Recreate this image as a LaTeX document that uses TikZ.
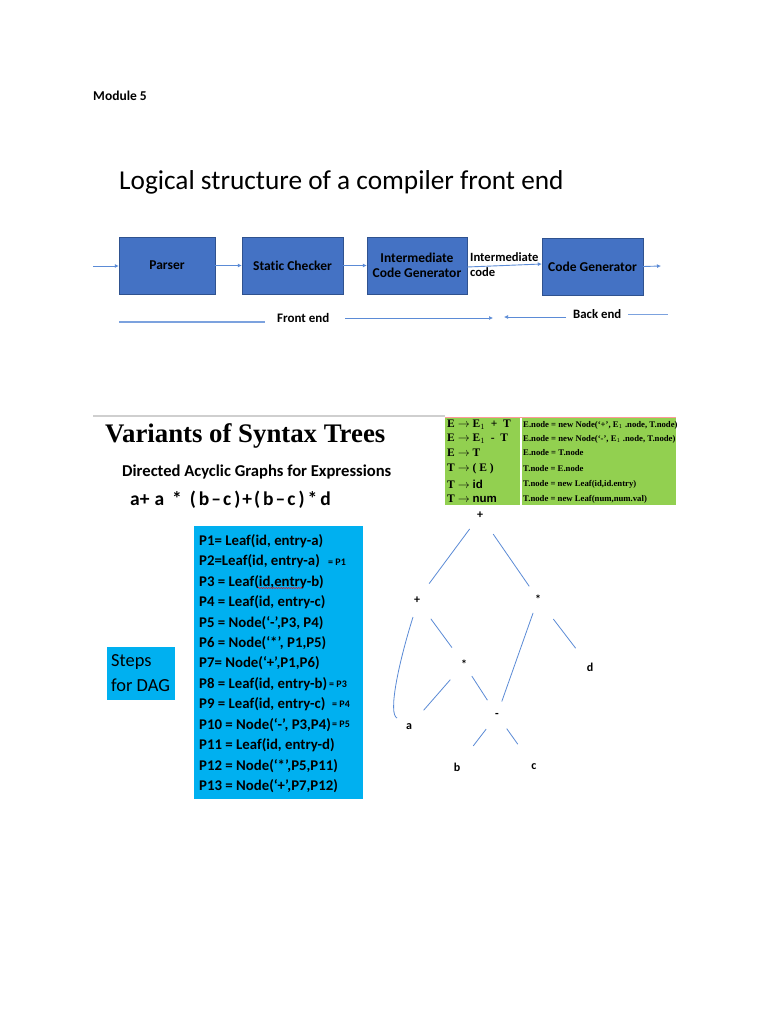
\documentclass[tikz,border=0pt]{standalone}
\usepackage{fontspec}
\setmainfont{Carlito}[Ligatures=NoCommon]
\newfontfamily\timesfont{Liberation Serif}
\newfontfamily\arialfont{Liberation Sans}
\usetikzlibrary{arrows.meta,decorations.pathmorphing}

\definecolor{boxblue}{HTML}{4472C4}
\definecolor{boxedge}{HTML}{2F528F}
\definecolor{lineblue}{HTML}{5B8BD6}
\definecolor{stepblue}{HTML}{00B0F0}
\definecolor{tablegreen}{HTML}{92D050}
\definecolor{rulegray}{HTML}{CFCFCF}

\tikzset{
  stage/.style={draw=boxedge, fill=boxblue, minimum height=57pt, inner sep=0pt,
    align=center, font=\bfseries\fontsize{13.5}{15}\selectfont},
  flow/.style={lineblue, line width=0.9pt, -{Latex[length=4pt,width=4pt]}},
  lbl/.style={inner sep=0pt, anchor=west},
  treelbl/.style={inner sep=0pt, font=\bfseries\fontsize{12}{13}\selectfont},
  treeline/.style={lineblue, line width=0.8pt},
  steptext/.style={inner sep=0pt, anchor=west, font=\bfseries\fontsize{14.8}{18}\selectfont},
  note/.style={inner sep=0pt, anchor=west, font=\bfseries\fontsize{10}{11}\selectfont},
  ruleleft/.style={inner sep=0pt, anchor=west, font=\timesfont\bfseries\fontsize{11.5}{12}\selectfont},
  ruleright/.style={inner sep=0pt, anchor=west, font=\timesfont\bfseries\fontsize{8.7}{10}\selectfont}
}

\begin{document}
\begin{tikzpicture}[x=1pt,y=-1pt]
  \useasboundingbox[fill=white] (0,0) rectangle (768,1024);

  % heading
  \node[lbl, font=\bfseries\fontsize{13.5}{15}\selectfont] (module) at (93,96) {Module 5};
  \node[lbl, font=\fontsize{27.3}{30}\selectfont] (title) at (119,182) {Logical structure of a compiler front end};

  % compiler stages
  \node[stage, minimum width=96pt]  (parser)  at (167,265.5) {Parser};
  \node[stage, minimum width=101pt] (checker) at (292.5,265.5) {Static Checker};
  \node[stage, minimum width=100pt] (icg)     at (417,265.5) {Intermediate\\Code Generator};
  \node[stage, minimum width=101pt] (cg)      at (592.5,266.5) {Code Generator};
  \coordinate (in) at (93,266);
  \coordinate (out) at (661,266);
  \draw[flow] (in) -- (parser.west |- in);
  \draw[flow] (parser.east) -- (checker.west);
  \draw[flow] (checker.east) -- (icg.west);
  \draw[flow] ([yshift=-1.5pt]icg.east) -- (cg.west |- 0,264);
  \draw[flow] (cg.east) -- (out);
  \node[lbl, align=left, font=\bfseries\fontsize{12.6}{15}\selectfont] (icode) at (470,264.5) {Intermediate\\code};

  % front end / back end
  \coordinate (fe1) at (119,322);
  \coordinate (fe2) at (265,322);
  \coordinate (fa1) at (345,318);
  \coordinate (fa2) at (493,318);
  \coordinate (ba1) at (566,317);
  \coordinate (ba2) at (504,317);
  \coordinate (be1) at (628,314);
  \coordinate (be2) at (668,314);
  \node[lbl, font=\bfseries\fontsize{13}{14}\selectfont] (front) at (277,318) {Front end};
  \node[lbl, font=\bfseries\fontsize{12.8}{14}\selectfont] (back) at (573,314) {Back end};
  \draw[lineblue!80, line width=1.6pt] (fe1) -- (fe2);
  \draw[flow, line width=0.7pt] (fa1) -- (fa2);
  \draw[flow, line width=0.7pt] (ba1) -- (ba2);
  \draw[lineblue!80, line width=0.7pt] (be1) -- (be2);

  % second part
  \draw[rulegray, line width=1.5pt] (93,416) -- (445,416);
  \node[lbl, font=\timesfont\bfseries\fontsize{26.8}{30}\selectfont] (variants) at (105,436) {Variants of Syntax Trees};
  \node[lbl, font=\bfseries\fontsize{16.6}{18}\selectfont] (dag) at (122,472) {Directed Acyclic Graphs for Expressions};
  \node[lbl, font=\bfseries\fontsize{19.5}{20}\selectfont] (expr) at (130,500)
    {a+\hspace{5pt}a\hspace{8pt}*\hspace{8pt}(\hspace{3pt}b\hspace{2pt}--\hspace{2pt}c\hspace{3pt})\hspace{2pt}+\hspace{2pt}(\hspace{3pt}b\hspace{2pt}--\hspace{2pt}c\hspace{3pt})\hspace{3pt}*\hspace{3pt}d};

  % translation scheme
  \fill[tablegreen] (445,417) rectangle (676,505);
  \draw[red!40, line width=0.7pt] (445,417.3) -- (676,417.3);
  \draw[white, line width=2pt] (521,418) -- (521,505);
  \node[ruleleft] (r1) at (447,425) {E $\rightarrow$ E$_1$\ \ + \ T};
  \node[ruleleft] (r2) at (447,439) {E $\rightarrow$ E$_1$\ \ - \ T};
  \node[ruleleft] (r3) at (447,453) {E $\rightarrow$ T};
  \node[ruleleft] (r4) at (447,469) {T $\rightarrow$ ( E )};
  \node[ruleleft] (r5) at (447,484) {T $\rightarrow$ {\arialfont\bfseries id}};
  \node[ruleleft] (r6) at (447,499) {T $\rightarrow$ {\arialfont\bfseries num}};
  \node[ruleright] (a1) at (523,425) {E.node = new Node(‘+’, E$_1$ .node, T.node)};
  \node[ruleright] (a2) at (523,439) {E.node = new Node(‘-’, E$_1$ .node, T.node)};
  \node[ruleright] (a3) at (523,453) {E.node = T.node};
  \node[ruleright] (a4) at (523,469) {T.node = E.node};
  \node[ruleright] (a5) at (523,484) {T.node = new Leaf(id,id.entry)};
  \node[ruleright] (a6) at (523,499) {T.node = new Leaf(num,num.val)};

  % steps
  \node[fill=stepblue, minimum width=68pt, minimum height=53pt, inner sep=0pt] (stepsbox) at (141,673.5) {};
  \node[lbl, align=left, font=\fontsize{18.4}{25}\selectfont] (steps) at (111,673.5) {Steps\\for DAG};
  \node[fill=stepblue, minimum width=169pt, minimum height=273pt, inner sep=0pt] (listbox) at (278.5,662.5) {};
  \foreach \t [count=\k from 0] in {{P1= Leaf(id, entry-a)}, {P2=Leaf(id, entry-a)},
      {P3 = Leaf(id,entry-b)}, {P4 = Leaf(id, entry-c)}, {P5 = Node(‘-’,P3, P4)},
      {P6 = Node(‘*’, P1,P5)}, {P7= Node(‘+’,P1,P6)}, {P8 = Leaf(id, entry-b)},
      {P9 = Leaf(id, entry-c)}, {P10 = Node(‘-’, P3,P4)}, {P11 = Leaf(id, entry-d)},
      {P12 = Node(‘*’,P5,P11)}, {P13 = Node(‘+’,P7,P12)}}
    \node[steptext] (p\k) at (199,541+20.42*\k) {\t};
  \draw[red, line width=0.4pt, decorate, decoration={snake, amplitude=0.6pt, segment length=2.5pt}] (258,588) -- (303,588);
  \node[note] (n1) at (328,562.5) {= P1};
  \node[note] (n3) at (329,684) {= P3};
  \node[note] (n4) at (332,704.5) {= P4};
  \node[note] (n5) at (332,724.5) {= P5};

  % the DAG
  \node[treelbl] (top)   at (480,515) {+};
  \node[treelbl] (lplus) at (417,600) {+};
  \node[treelbl] (rstar) at (538,599) {*};
  \node[treelbl] (mstar) at (464,664) {*};
  \node[treelbl] (d)     at (590,667) {d};
  \node[treelbl] (a)     at (409,727) {a};
  \node[treelbl] (minus) at (497,715) {-};
  \node[treelbl] (b)     at (457,767) {b};
  \node[treelbl] (c)     at (534,767) {c};
  \foreach \u/\v/\s/\e in {top/lplus/13/16, top/rstar/19/10, lplus/mstar/19/15,
      mstar/a/16/18, mstar/minus/9/15, rstar/minus/10/12, rstar/d/20/18,
      minus/b/15/21, minus/c/14/24}
    \draw[treeline, shorten <=\s pt, shorten >=\e pt] (\u) -- (\v);
  \draw[treeline] ([shift={(-4,17)}]lplus.center) .. controls (398,665) and (388,714) .. ([shift={(-12,-9)}]a.center);
\end{tikzpicture}
\end{document}
